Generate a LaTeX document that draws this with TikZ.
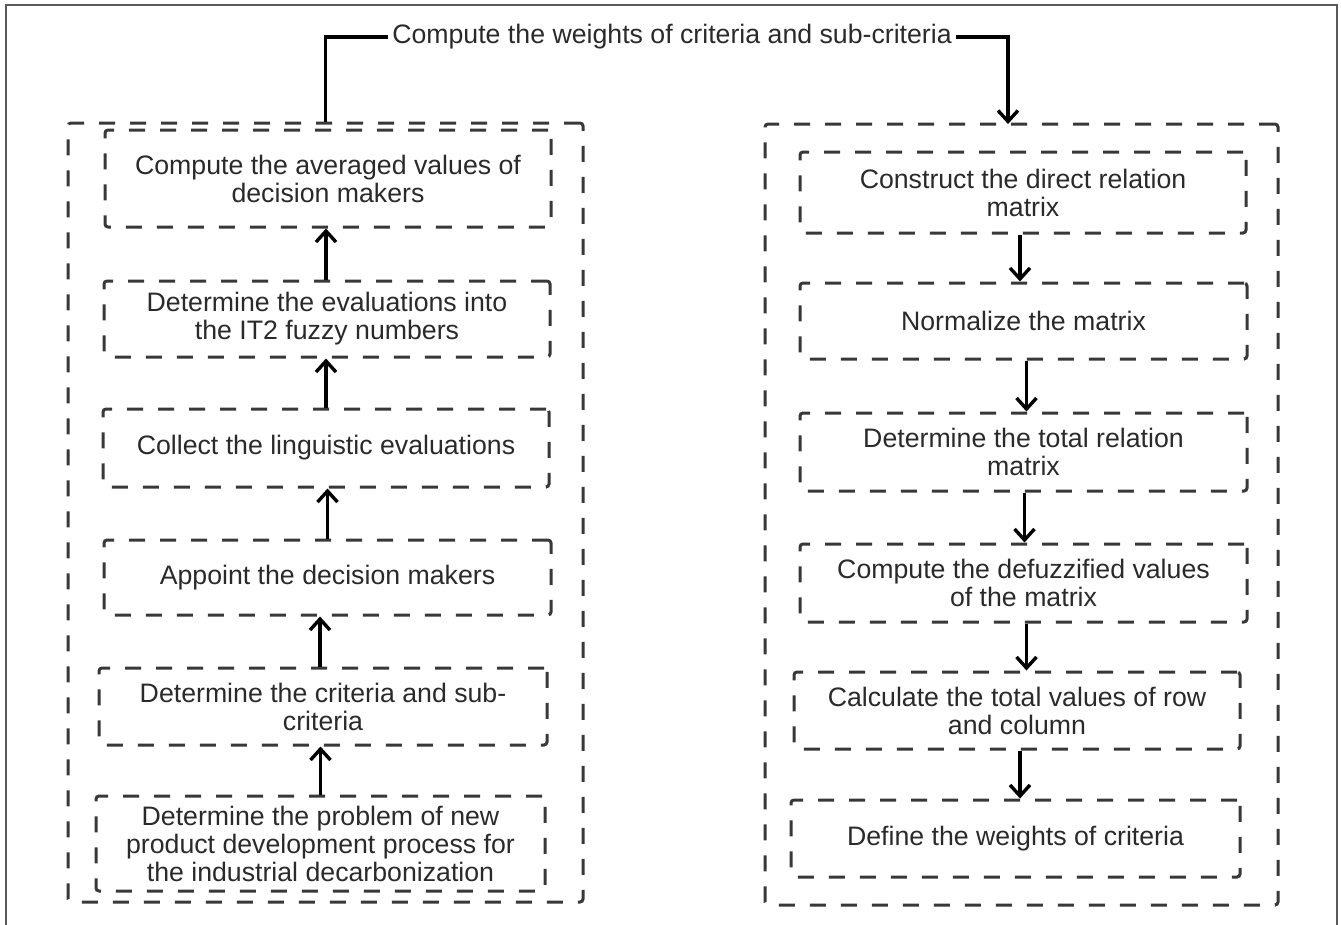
\documentclass[tikz,border=0pt]{standalone}
\usepackage{fontspec}
\setmainfont{Liberation Sans}
\usetikzlibrary{arrows.meta}
\definecolor{txt}{HTML}{2A2A2A}
\definecolor{dsh}{HTML}{383838}
\begin{document}
\begin{tikzpicture}[x=1pt,y=-1pt,
  box/.style={draw=dsh, line width=3pt, dash pattern=on 16pt off 15pt, rounded corners=3pt,
    align=center, text=txt, inner sep=0pt,
    font=\fontsize{26.7}{28}\selectfont},
  outer/.style={draw=dsh, line width=3pt, dash pattern=on 16pt off 15pt, rounded corners=3pt, inner sep=0pt},
  arr/.style={line width=3.4pt, black, -{Straight Barb[length=11pt,width=20pt]}},
  link/.style={line width=3.4pt, black}]
\useasboundingbox (0,0) rectangle (1341,924);
% frame
\draw[gray!70!black, line width=1.5pt] (6,930) -- (6,5) -- (1337,5) -- (1337,930);

% left column
\node[outer, minimum width=515pt, minimum height=779pt] (lo) at (325.5,512.5) {};
\node[box, minimum width=446pt, minimum height=97pt] (l1) at (328,178.5) {Compute the averaged values of\\decision makers};
\node[box, minimum width=446pt, minimum height=76pt] (l2) at (327,319) {Determine the evaluations into\\the IT2 fuzzy numbers};
\node[box, minimum width=446pt, minimum height=78pt] (l3) at (326,448) {Collect the linguistic evaluations};
\node[box, minimum width=447pt, minimum height=75pt] (l4) at (327.5,577.5) {Appoint the decision makers};
\node[box, minimum width=448pt, minimum height=77pt] (l5) at (323,706.5) {Determine the criteria and sub-\\criteria};
\node[box, minimum width=449pt, minimum height=95pt] (l6) at (320.5,843.5) {Determine the problem of new\\product development process for\\the industrial decarbonization};

% right column
\node[outer, minimum width=513pt, minimum height=781pt] (ro) at (1021.5,514.5) {};
\node[box, minimum width=446pt, minimum height=81pt] (r1) at (1023,192.5) {Construct the direct relation\\matrix};
\node[box, minimum width=447pt, minimum height=76pt] (r2) at (1023.5,321) {Normalize the matrix};
\node[box, minimum width=447pt, minimum height=78pt] (r3) at (1023.5,452) {Determine the total relation\\matrix};
\node[box, minimum width=447pt, minimum height=78pt] (r4) at (1023.5,583) {Compute the defuzzified values\\of the matrix};
\node[box, minimum width=446pt, minimum height=77pt] (r5) at (1017,710.5) {Calculate the total values of row\\and column};
\node[box, minimum width=449pt, minimum height=77pt] (r6) at (1015.5,838.5) {Define the weights of criteria};

% title
\node[text=txt, font=\fontsize{26.7}{28}\selectfont, inner sep=4pt] (title) at (672,37) {Compute the weights of criteria and sub-criteria};
\coordinate (rin) at (1008,124);
\draw[link] (title.west) -| (lo.north);
\draw[arr] (title.east) -| (rin);

% left arrows (upward)
\draw[arr] ([xshift=-1pt]l2.north) -- ([xshift=-1pt]l2.north |- l1.south);
\draw[arr] (l3.north) -- (l3.north |- l2.south);
\draw[arr] (l4.north) -- (l4.north |- l3.south);
\draw[arr] ([xshift=-3pt]l5.north) -- ([xshift=-3pt]l5.north |- l4.south);
\draw[arr] (l6.north) -- (l6.north |- l5.south);

% right arrows (downward)
\draw[arr] ([xshift=-3pt]r1.south) -- ([xshift=-3pt]r1.south |- r2.north);
\draw[arr] ([xshift=3pt]r2.south) -- ([xshift=3pt]r2.south |- r3.north);
\draw[arr] ([xshift=1pt]r3.south) -- ([xshift=1pt]r3.south |- r4.north);
\draw[arr] ([xshift=3pt]r4.south) -- ([xshift=3pt]r4.south |- r5.north);
\draw[arr] ([xshift=3pt]r5.south) -- ([xshift=3pt]r5.south |- r6.north);
\end{tikzpicture}
\end{document}
